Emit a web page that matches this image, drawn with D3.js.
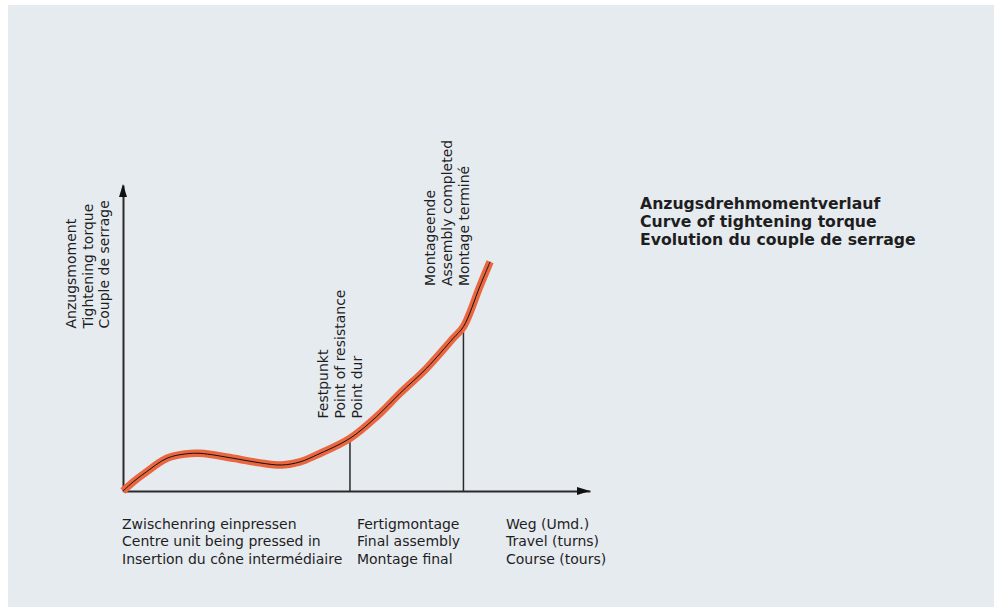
<!DOCTYPE html>
<html>
<head>
<meta charset="utf-8">
<script src="https://cdn.jsdelivr.net/npm/d3@7"></script>
<style>
  html, body { margin: 0; padding: 0; background: #ffffff; }
  svg { display: block; }
  text { font-family: "DejaVu Sans", "Liberation Sans", sans-serif; fill: #1e1e1e; }
</style>
</head>
<body>
<svg id="chart" width="994" height="607"></svg>
<script>
// ---- data ----
const travel = [0, 2.2, 4.7, 9.4, 13.3, 16.5, 23.6, 29.3, 34.0, 37.9, 41.5, 48.6, 54.3, 59.3, 65.0, 70.7, 72.9, 76.4, 78.6];
const torque = [0, 3.0, 5.9, 10.7, 12.1, 12.3, 10.7, 9.2, 8.5, 9.5, 11.8, 17.2, 24.3, 31.9, 40.1, 49.9, 53.7, 66.8, 74.9];
const markerTravel = [48.6, 72.9];
const markerTorque = [17.2, 53.0];
const markerLabels = [
  ["Festpunkt", "Point of resistance", "Point dur"],
  ["Montageende", "Assembly completed", "Montage terminé"]
];
const yAxisLabel = ["Anzugsmoment", "Tightening torque", "Couple de serrage"];
const phaseLabels = [
  ["Zwischenring einpressen", "Centre unit being pressed in", "Insertion du cône intermédiaire"],
  ["Fertigmontage", "Final assembly", "Montage final"]
];
const phaseStart = [0, 50.3];
const xAxisLabel = ["Weg (Umd.)", "Travel (turns)", "Course (tours)"];
const titleLines = ["Anzugsdrehmomentverlauf", "Curve of tightening torque", "Evolution du couple de serrage"];

// ---- setup ----
const svg = d3.select("#chart");
svg.append("rect").attr("x", 8).attr("y", 5).attr("width", 986).attr("height", 602).attr("fill", "#e6ebf0");

const x = d3.scaleLinear().domain([0, 100]).range([123, 590]);
const y = d3.scaleLinear().domain([0, 100]).range([491, 185]);
const axisColor = "#2a2a2a";

// axes via d3 axis generators (no ticks)
svg.append("g").attr("transform", `translate(0,${y(0)})`)
  .call(d3.axisBottom(x).tickValues([]).tickSizeOuter(0))
  .call(g => g.select(".domain").attr("stroke", axisColor).attr("stroke-width", 2));
svg.append("g").attr("transform", `translate(${x(0)},0)`)
  .call(d3.axisLeft(y).tickValues([]).tickSizeOuter(0))
  .call(g => g.select(".domain").attr("stroke", axisColor).attr("stroke-width", 2));

// arrowheads
const xe = x(100), ye = y(0);
svg.append("path").attr("d", `M${xe},${ye} L${xe - 13},${ye - 4} L${xe - 13},${ye + 4} Z`).attr("fill", "#111");
const yx = x(0), yt = y(100);
svg.append("path").attr("d", `M${yx},${yt - 1} L${yx - 4},${yt + 12} L${yx + 4},${yt + 12} Z`).attr("fill", "#111");

// marker vertical lines
svg.selectAll("line.marker").data(markerTravel).join("line")
  .attr("class", "marker")
  .attr("x1", d => x(d)).attr("x2", d => x(d))
  .attr("y1", y(0)).attr("y2", (d, i) => y(markerTorque[i]))
  .attr("stroke", axisColor).attr("stroke-width", 1.5);

// curve
const pts = travel.map((t, i) => [t, torque[i]]);
const line = d3.line().x(d => x(d[0])).y(d => y(d[1])).curve(d3.curveCatmullRom.alpha(0.5));
svg.append("path").datum(pts).attr("d", line).attr("fill", "none")
  .attr("stroke", "#e9663f").attr("stroke-width", 7.5).attr("stroke-linecap", "butt").attr("stroke-linejoin", "round");
svg.append("path").datum(pts).attr("d", line).attr("fill", "none")
  .attr("stroke", "#111").attr("stroke-width", 1);

// rotated label helper
function vLabel(lines, bx, by, step) {
  lines.forEach((s, i) => {
    svg.append("text")
      .attr("transform", `translate(${bx + i * step},${by}) rotate(-90)`)
      .attr("font-size", 14).text(s);
  });
}
vLabel(yAxisLabel, 76, 328.5, 16.7);
vLabel(markerLabels[0], x(markerTravel[0]) - 21.7, 418.5, 16.7);
vLabel(markerLabels[1], x(markerTravel[1]) - 28.3, 286, 16.7);

// horizontal bottom labels
function hLabel(lines, lx, ly, step, size, weight) {
  lines.forEach((s, i) => {
    svg.append("text").attr("x", lx).attr("y", ly + i * step)
      .attr("font-size", size).attr("font-weight", weight).text(s);
  });
}
phaseLabels.forEach((lines, k) => hLabel(lines, x(phaseStart[k]) - 1, 528.5, 17.5, 14, "normal"));
hLabel(xAxisLabel, 506, 528.5, 17.5, 14, "normal");
hLabel(titleLines, 640, 208.5, 18.3, 15.7, "bold");
</script>
</body>
</html>
